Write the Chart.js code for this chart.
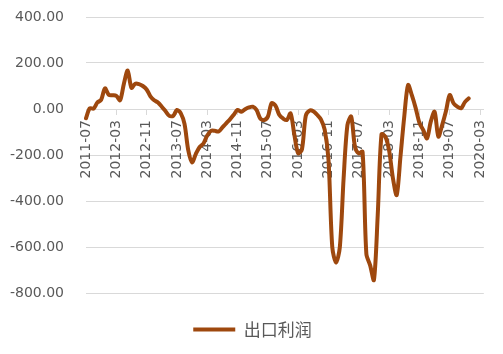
<!DOCTYPE html>
<html>
<head>
<meta charset="utf-8">
<script src="https://cdn.jsdelivr.net/npm/chart.js@4"></script>
<style>
  html, body { margin: 0; padding: 0; background: #fff; }
  #wrap { width: 503px; height: 354px; }
</style>
</head>
<body>
<div id="wrap"><canvas id="myChart"></canvas></div>
<script>
// months 2011-07 .. 2020-04
var months = [
  '2011-07','2011-08','2011-09','2011-10','2011-11','2011-12',
  '2012-01','2012-02','2012-03','2012-04','2012-05','2012-06','2012-07','2012-08','2012-09','2012-10','2012-11','2012-12',
  '2013-01','2013-02','2013-03','2013-04','2013-05','2013-06','2013-07','2013-08','2013-09','2013-10','2013-11','2013-12',
  '2014-01','2014-02','2014-03','2014-04','2014-05','2014-06','2014-07','2014-08','2014-09','2014-10','2014-11','2014-12',
  '2015-01','2015-02','2015-03','2015-04','2015-05','2015-06','2015-07','2015-08','2015-09','2015-10','2015-11','2015-12',
  '2016-01','2016-02','2016-03','2016-04','2016-05','2016-06','2016-07','2016-08','2016-09','2016-10','2016-11','2016-12',
  '2017-01','2017-02','2017-03','2017-04','2017-05','2017-06','2017-07','2017-08','2017-09','2017-10','2017-11','2017-12',
  '2018-01','2018-02','2018-03','2018-04','2018-05','2018-06','2018-07','2018-08','2018-09','2018-10','2018-11','2018-12',
  '2019-01','2019-02','2019-03','2019-04','2019-05','2019-06','2019-07','2019-08','2019-09','2019-10','2019-11','2019-12',
  '2020-01','2020-02','2020-03','2020-04'
];

// 出口利润, 2011-07 .. 2019-12
var exportProfit = [
  -40, 3, 2, 28, 40, 90,
  62, 60, 57, 38, 110, 167, 92, 110, 108, 100, 85, 55,
  38, 28, 10, -10, -30, -30, -4, -18, -65, -180, -232, -195,
  -165, -150, -115, -95, -95, -98, -80, -62, -45, -25, -4, -12,
  -1, 7, 10, -4, -41, -48, -33, 25, 15, -25, -41, -48,
  -19, -113, -193, -175, -30, -7, -10, -25, -45, -90, -220, -600,
  -668, -600, -300, -70, -33, -165, -193, -186, -630, -680, -743, -460,
  -110, -120, -180, -300, -374, -207, -33, 104, 60, 5, -60, -91,
  -128, -55, -12, -120, -70, -10, 61, 25, 10, 3, 30, 46
];

var yMin = -800, yMax = 400, yStep = 200;
var tickEvery = 8;

var ctx = document.getElementById('myChart').getContext('2d');
var myChart = new Chart(ctx, {
    type: 'line',
    data: {
        labels: months,
        datasets: [{
            label: '出口利润',
            data: exportProfit,
            borderColor: '#9E480E',
            backgroundColor: '#9E480E',
            borderWidth: 4,
            borderCapStyle: 'round',
            borderJoinStyle: 'round',
            pointRadius: 0,
            tension: 0.3,
            fill: false
        }]
    },
    options: {
        responsive: true,
        maintainAspectRatio: false,
        animation: false,
        layout: { padding: { left: 0, right: 18, top: 17, bottom: 0 } },
        scales: {
            x: {
                position: { y: 0 },
                grid: { drawOnChartArea: false, drawTicks: true, tickLength: 5, color: '#D9D9D9' },
                border: { display: true, color: '#D9D9D9', width: 1 },
                afterBuildTicks: function (s) {
                    s.ticks = s.ticks.filter(function (t) { return t.value % tickEvery === 0; });
                },
                ticks: {
                    autoSkip: false,
                    maxRotation: 90,
                    minRotation: 90,
                    padding: 6,
                    color: '#595959',
                    font: { family: 'DejaVu Sans', size: 14 }
                }
            },
            y: {
                min: yMin,
                max: yMax,
                afterFit: function (s) {
                    s.width = 86;
                    // tick padding would otherwise push the plot down
                    s.paddingTop = 0;
                    s.paddingBottom = 0;
                },
                grid: { drawTicks: false, color: '#D9D9D9' },
                border: { display: false },
                ticks: {
                    stepSize: yStep,
                    padding: 22,
                    color: '#595959',
                    font: { family: 'DejaVu Sans', size: 14 },
                    callback: function (v) { return v.toFixed(2); }
                }
            }
        },
        plugins: {
            tooltip: { enabled: false },
            legend: {
                position: 'bottom',
                labels: {
                    usePointStyle: true,
                    pointStyle: 'line',
                    pointStyleWidth: 42,
                    padding: 28,
                    color: '#595959',
                    font: { family: '"Noto Sans CJK SC", "Noto Sans"', size: 17 }
                }
            }
        }
    },
    plugins: [{
        id: 'legendHeight',
        beforeInit: function (chart) {
            var fit = chart.legend.fit;
            chart.legend.fit = function () {
                fit.bind(chart.legend)();
                this.height = 61;
            };
        },
        afterLayout: function (chart) {
            // centre the legend on the whole canvas, like the reference
            chart.legend.left += 10;
            chart.legend.right += 10;
        }
    }]
});
</script>
</body>
</html>
